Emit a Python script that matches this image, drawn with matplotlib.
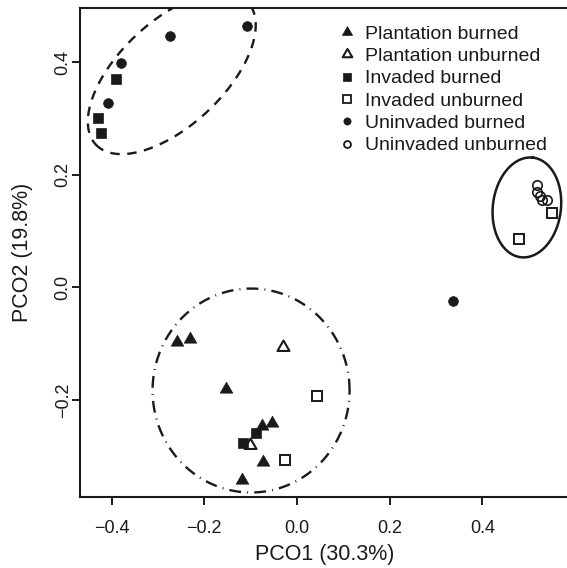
import numpy as np
import matplotlib
matplotlib.use("Agg")
import matplotlib.pyplot as plt
from matplotlib.lines import Line2D
from matplotlib.path import Path

plt.rcParams['font.family'] = ['Liberation Sans', 'DejaVu Sans']

INK = '#1a1a1a'

# ---- data (PCO scores) ----
plant_burned_x = [-0.259, -0.231, -0.153, -0.054, -0.075, -0.074, -0.118]
plant_burned_y = [-0.097, -0.092, -0.180, -0.240, -0.246, -0.309, -0.342]
plant_unburned_x = [-0.030, -0.101]
plant_unburned_y = [-0.105, -0.279]
inv_burned_x = [-0.390, -0.429, -0.422, -0.088, -0.117]
inv_burned_y = [0.370, 0.300, 0.275, -0.259, -0.276]
inv_unburned_x = [0.044, -0.026, 0.550, 0.480]
inv_unburned_y = [-0.192, -0.306, 0.132, 0.086]
uninv_burned_x = [-0.108, -0.273, -0.380, -0.407, 0.336]
uninv_burned_y = [0.464, 0.446, 0.398, 0.327, -0.024]
uninv_unburned_x = [0.517, 0.518, 0.524, 0.528, 0.539]
uninv_unburned_y = [0.181, 0.169, 0.163, 0.156, 0.155]

labels = ["Plantation burned", "Plantation unburned", "Invaded burned",
          "Invaded unburned", "Uninvaded burned", "Uninvaded unburned"]

# ellipses: centre, first semi-axis vector, second semi-axis vector
ell_center = [(-0.270, 0.380), (-0.099, -0.183), (0.496, 0.142)]
ell_axis1 = [(-0.164, -0.1264), (0.2125, 0.0), (0.0132, 0.0884)]
ell_axis2 = [(0.0768, -0.0677), (0.0, 0.181), (0.0729, -0.0073)]

xlim = (-0.468, 0.589)
ylim = (-0.372, 0.496)

# ---- figure ----
fig = plt.figure(figsize=(5.67, 5.68), dpi=100)
ax = fig.add_axes([80/567, 1-497/568, 490/567, 489/568])

tri = Path([(-1, -0.577), (1, -0.577), (0, 1.155), (-1, -0.577)],
           [Path.MOVETO, Path.LINETO, Path.LINETO, Path.CLOSEPOLY])

ax.plot(plant_burned_x, plant_burned_y, ls='none', marker=tri, ms=10.5,
        mfc=INK, mec=INK, mew=0.5)
ax.plot(plant_unburned_x, plant_unburned_y, ls='none', marker=tri, ms=10.0,
        mfc='white', mec=INK, mew=1.5)
ax.plot(inv_burned_x, inv_burned_y, ls='none', marker='s', ms=7.6,
        mfc=INK, mec=INK, mew=0.5)
ax.plot(inv_unburned_x, inv_unburned_y, ls='none', marker='s', ms=6.6,
        mfc='white', mec=INK, mew=1.4)
ax.plot(uninv_burned_x, uninv_burned_y, ls='none', marker='o', ms=7.0,
        mfc=INK, mec=INK, mew=0.5)
ax.plot(uninv_unburned_x, uninv_unburned_y, ls='none', marker='o', ms=6.8,
        mfc='none', mec=INK, mew=1.2)

t = np.linspace(0, 2*np.pi, 600)
styles = [dict(ls=(0, (4, 3.2)), lw=1.7),
          dict(ls=(0, (5.0, 2.6, 0.4, 2.6)), lw=1.7),
          dict(ls='-', lw=1.8)]
for c, a1, a2, st in zip(ell_center, ell_axis1, ell_axis2, styles):
    ex = c[0] + a1[0]*np.cos(t) + a2[0]*np.sin(t)
    ey = c[1] + a1[1]*np.cos(t) + a2[1]*np.sin(t)
    ax.plot(ex, ey, color=INK, **st)

ax.set_xlim(*xlim)
ax.set_ylim(*ylim)
ax.set_xticks([-0.4, -0.2, 0.0, 0.2, 0.4])
ax.set_yticks([-0.2, 0.0, 0.2, 0.4])
ax.set_xticklabels(['\u22120.4', '\u22120.2', '0.0', '0.2', '0.4'])
ax.set_yticklabels(['\u22120.2', '0.0', '0.2', '0.4'], rotation=90, va='center')

ax.tick_params(axis='both', direction='out', length=5.5, width=1.4,
               color=INK, labelcolor=INK, labelsize=13)
ax.tick_params(axis='x', pad=11)
ax.tick_params(axis='y', pad=0.5)
for s in ax.spines.values():
    s.set_linewidth(1.5)
    s.set_color(INK)

ax.set_xlabel('PCO1 (30.3%)', fontsize=15.5, color=INK)
ax.set_ylabel('PCO2 (19.8%)', fontsize=15.5, color=INK)
ax.xaxis.set_label_coords(0.5, -0.118)
ax.yaxis.set_label_coords(-0.118, 0.5)
ax.xaxis.label.set_va('center')
ax.yaxis.label.set_va('center')

handles = [
    Line2D([], [], ls='none', marker=tri, ms=8.5, mfc=INK, mec=INK, mew=0.5),
    Line2D([], [], ls='none', marker=tri, ms=8.0, mfc='white', mec=INK, mew=1.5),
    Line2D([], [], ls='none', marker='s', ms=5.8, mfc=INK, mec=INK, mew=0.5),
    Line2D([], [], ls='none', marker='s', ms=5.2, mfc='white', mec=INK, mew=1.3),
    Line2D([], [], ls='none', marker='o', ms=5.2, mfc=INK, mec=INK, mew=0.5),
    Line2D([], [], ls='none', marker='o', ms=5.0, mfc='white', mec=INK, mew=1.3),
]
leg = ax.legend(handles, labels, loc='upper left',
                bbox_to_anchor=((337-80)/490, (497-25)/489),
                frameon=False, fontsize=14, handlelength=1.0,
                handletextpad=0.44, labelspacing=0.245, borderpad=0,
                borderaxespad=0)
for txt in leg.get_texts():
    txt.set_color(INK)

fig.savefig('out.png', dpi=100)
